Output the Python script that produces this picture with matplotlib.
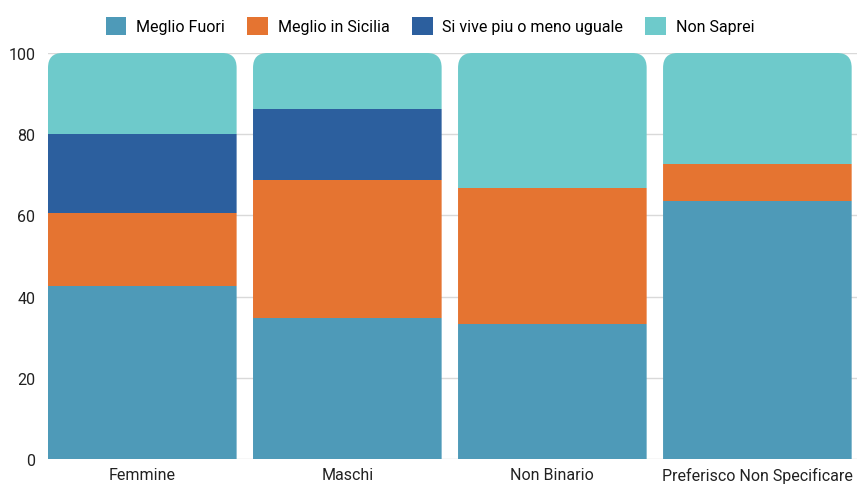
import numpy as np
import matplotlib
matplotlib.use("Agg")
import matplotlib.pyplot as plt
from matplotlib.patches import FancyBboxPatch

plt.rcParams['font.family'] = ['Roboto', 'DejaVu Sans']

categories = ["Femmine", "Maschi", "Non Binario", "Preferisco Non Specificare"]
series = ["Meglio Fuori", "Meglio in Sicilia", "Si vive piu o meno uguale", "Non Saprei"]
meglio_fuori = [42.6, 34.7, 33.3, 63.6]
meglio_sicilia = [18.0, 34.0, 33.4, 9.1]
uguale = [19.4, 17.5, 0.0, 0.0]
non_saprei = [20.0, 13.8, 33.3, 27.3]
colors = ["#4E9AB8", "#E57431", "#2C5F9E", "#6ECACB"]

values = [meglio_fuori, meglio_sicilia, uguale, non_saprei]

fig = plt.figure(figsize=(8.6, 4.85), dpi=100)
ax = fig.add_axes([48/860, 25/485, 809/860, 406/485])

x = np.arange(len(categories))
width = 0.92
bottom = np.zeros(len(categories))
bars_all = []
for vals, name, c in zip(values, series, colors):
    bars = ax.bar(x, vals, width, bottom=bottom, color=c, label=name, zorder=2)
    bars_all.append(bars)
    bottom += np.array(vals)

ax.set_xlim(-0.46, 3.486)
ax.set_ylim(0, 100)

# rounded top corners: clip each column with a rounded box
for i in range(len(categories)):
    box = FancyBboxPatch((x[i] - width/2, -20), width, 120,
                         boxstyle="round,pad=0,rounding_size=0.07",
                         mutation_aspect=52, transform=ax.transData,
                         facecolor="none", edgecolor="none")
    ax.add_patch(box)
    box.set_visible(False)
    for bars in bars_all:
        bars[i].set_clip_path(box)

ax.set_yticks([0, 20, 40, 60, 80, 100])
ax.set_xticks(x)
ax.set_xticklabels(categories)
ax.tick_params(length=0, labelsize=11.5, colors="#222222")
ax.tick_params(axis='y', pad=9)
ax.tick_params(axis='x', pad=6)
ax.grid(axis='y', color="#d9d9d9", linewidth=1, zorder=0)
ax.set_axisbelow(True)
for s in ax.spines.values():
    s.set_visible(False)

fig.legend(loc="center", bbox_to_anchor=(0.5, 1 - 27/485), ncol=4, frameon=False,
           fontsize=11.5, handlelength=1.3, handleheight=1.3, columnspacing=1.4,
           handletextpad=0.6)

fig.savefig("out.png", dpi=100)
